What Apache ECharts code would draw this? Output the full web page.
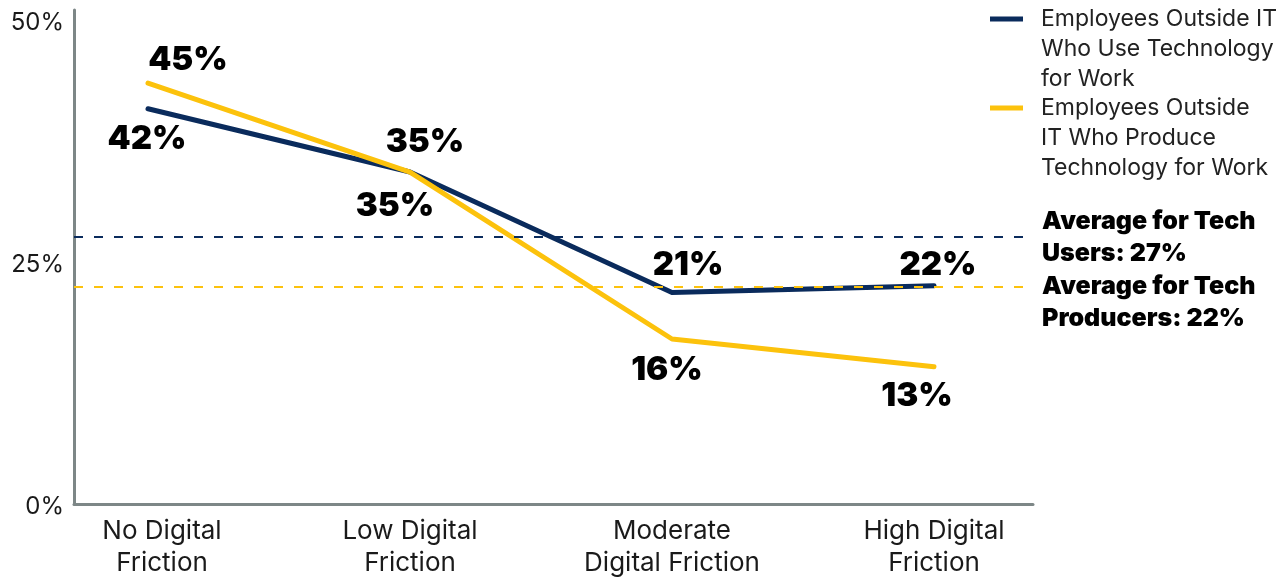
<!DOCTYPE html>
<html><head><meta charset="utf-8">
<script src="https://cdn.jsdelivr.net/npm/echarts@6/dist/echarts.min.js"></script>
<style>html,body{margin:0;padding:0;background:#fff}#c{width:1281px;height:577px}</style>
</head><body><div id="c"></div>
<script>
// ---- data ----
const categories = ['No Digital\nFriction', 'Low Digital\nFriction', 'Moderate\nDigital Friction', 'High Digital\nFriction'];
const usersName = 'Employees Outside IT\nWho Use Technology\nfor Work';
const producersName = 'Employees Outside\nIT Who Produce\nTechnology for Work';
const usersValues = [40.0, 33.6, 21.4, 22.1];
const producersValues = [42.6, 33.6, 16.7, 13.9];
const usersLabels = ['42%', '35%', '21%', '22%'];
const producersLabels = ['45%', '35%', '16%', '13%'];
const averageUsers = 27;
const averageProducers = 22;
const averageUsersText = 'Average for Tech\nUsers: 27%';
const averageProducersText = 'Average for Tech\nProducers: 22%';
const yMin = 0, yMax = 50, yStep = 25;

// ---- layout / style ----
const usersLabelOffsets = [[-1, 30], [15, -30], [16, -27], [4, -21]];
const producersLabelOffsets = [[40, -23], [-15, 34], [-5, 31], [-17, 29]];
const NAVY = '#0a2b5c';
const YELLOW = '#fcc20c';
const AXIS = '#7d8787';
const FONT = 'Inter, "Noto Sans", sans-serif';

const chart = echarts.init(document.getElementById('c'), null, { renderer: 'canvas' });

function pointData(values, labels, offsets) {
  return values.map((v, i) => ({ value: v, label: { formatter: labels[i], offset: offsets[i] } }));
}
const dataLabel = { show: true, position: 'inside', fontSize: 33, fontWeight: 900, color: '#000', fontFamily: FONT };
const legendCommon = {
  orient: 'vertical', left: 985, icon: 'rect', itemWidth: 33, itemHeight: 5, selectedMode: false,
  formatter: n => '\n\n' + n,
  textStyle: { fontSize: 23, lineHeight: 30, color: '#222', fontFamily: FONT, padding: [0, 0, 0, 13] }
};
const xRich = { p: { fontSize: 26, lineHeight: 32, color: '#1a1a1a', fontFamily: FONT, padding: [0, 0, 0, 28] } };
// vertical nudges of the y tick labels (spacer line heights)
const yRich = {
  s0: { fontSize: 1, lineHeight: 6 },
  s25: { fontSize: 1, lineHeight: 16 },
  s50: { fontSize: 1, lineHeight: 26 },
  t: { fontSize: 24, lineHeight: 24, color: '#1a1a1a', fontFamily: FONT }
};

chart.setOption({
  animation: false,
  backgroundColor: '#fff',
  grid: [
    { left: 74, right: 248, top: 10, bottom: 73, containLabel: false, outerBoundsMode: 'none' },
    { left: 17, right: 216, top: 10, bottom: 73, containLabel: false, outerBoundsMode: 'none' }
  ],
  legend: [
    Object.assign({ data: [usersName], top: 14 - 75 }, legendCommon),
    Object.assign({ data: [producersName], top: 103 - 75 }, legendCommon)
  ],
  xAxis: [
    { gridIndex: 0, type: 'category', data: categories, axisLine: { show: true, lineStyle: { color: AXIS, width: 3 } },
      axisTick: { show: false }, axisLabel: { show: false }, splitLine: { show: false } },
    { gridIndex: 1, type: 'category', data: categories, axisLine: { show: false }, axisTick: { show: false },
      axisLabel: { interval: 0, fontSize: 26, lineHeight: 32, color: '#1a1a1a', margin: 11, fontFamily: FONT, rich: xRich,
        formatter: (v, i) => i === 0 ? v.split('\n').map(s => '{p|' + s + '}').join('\n') : v } }
  ],
  yAxis: [
    { gridIndex: 0, type: 'value', min: yMin, max: yMax, interval: yStep,
      axisLine: { show: true, lineStyle: { color: AXIS, width: 3 } }, axisTick: { show: false }, splitLine: { show: false },
      axisLabel: { formatter: v => '{s' + v + '| }\n{t|' + v + '%}', rich: yRich, fontSize: 24, color: '#1a1a1a', margin: 10, fontFamily: FONT } },
    { gridIndex: 1, type: 'value', min: yMin, max: yMax, show: false, splitLine: { show: false } }
  ],
  series: [
    { type: 'line', name: 'avgUsers', xAxisIndex: 0, yAxisIndex: 0, data: [], silent: true,
      markLine: { silent: true, symbol: ['none', 'none'], animation: false,
        lineStyle: { color: NAVY, width: 2, type: [9, 11] },
        label: { show: true, position: 'end', distance: 9, formatter: averageUsersText, fontSize: 25, fontWeight: 900, lineHeight: 32, color: '#000', fontFamily: FONT },
        emphasis: { disabled: true },
        data: [{ yAxis: averageUsers }] } },
    { type: 'line', name: 'avgProducers', xAxisIndex: 0, yAxisIndex: 0, data: [], silent: true,
      markLine: { silent: true, symbol: ['none', 'none'], animation: false,
        lineStyle: { color: YELLOW, width: 2, type: [9, 11] },
        label: { show: true, position: 'end', distance: 9, formatter: '\n' + averageProducersText, fontSize: 25, fontWeight: 900, lineHeight: 32, color: '#000', fontFamily: FONT },
        emphasis: { disabled: true },
        data: [{ yAxis: averageProducers }] } },
    { type: 'line', name: usersName, xAxisIndex: 1, yAxisIndex: 1, color: NAVY,
      data: pointData(usersValues, usersLabels, usersLabelOffsets),
      symbol: 'circle', symbolSize: 1, itemStyle: { color: NAVY },
      lineStyle: { color: NAVY, width: 5, cap: 'round', join: 'round' },
      label: dataLabel, emphasis: { disabled: true }, z: 3 },
    { type: 'line', name: producersName, xAxisIndex: 1, yAxisIndex: 1, color: YELLOW,
      data: pointData(producersValues, producersLabels, producersLabelOffsets),
      symbol: 'circle', symbolSize: 1, itemStyle: { color: YELLOW },
      lineStyle: { color: YELLOW, width: 5, cap: 'round', join: 'round' },
      label: dataLabel, emphasis: { disabled: true }, z: 4 }
  ]
});
</script>
</body></html>
